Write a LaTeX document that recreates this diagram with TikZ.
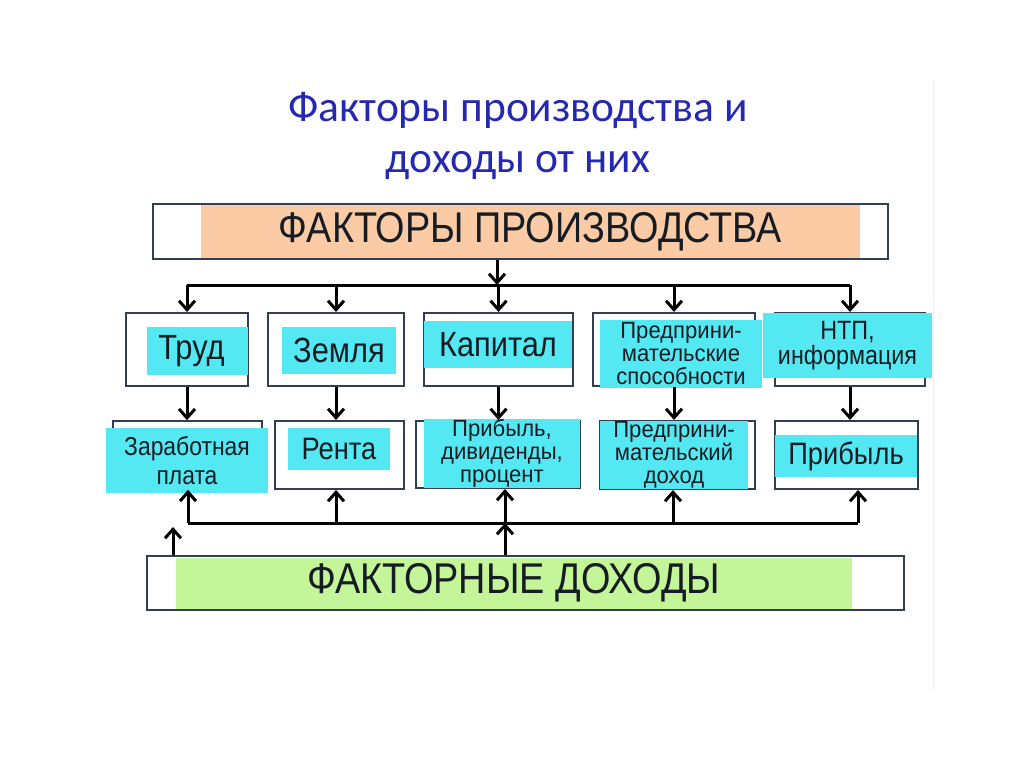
\documentclass[tikz,border=0pt]{standalone}
\usepackage{fontspec}
\usepackage{tikz}
\usetikzlibrary{arrows.meta,positioning}
\newfontfamily\boxfont[FakeStretch=0.88]{Liberation Sans}
\newfontfamily\smlfont[FakeStretch=0.94]{Liberation Sans}
\newfontfamily\headfont{Carlito}
\definecolor{frm}{RGB}{52,62,82}
\definecolor{cyanf}{RGB}{84,232,242}
\definecolor{orangef}{RGB}{250,203,164}
\definecolor{greenf}{RGB}{196,245,152}
\definecolor{headblue}{RGB}{36,40,178}
\definecolor{txt}{RGB}{22,28,36}

\begin{document}
\begin{tikzpicture}[
    x=1pt, y=-1pt,
    every node/.style={text=txt},
    frame/.style={draw=frm, line width=2pt, fill=white, inner sep=0pt},
    lab/.style={fill=cyanf, inner sep=0pt, align=center},
    big/.style={font=\boxfont\fontsize{43}{43}\selectfont},
    mid/.style={font=\boxfont\fontsize{35}{35}\selectfont},
    sml/.style={font=\smlfont\fontsize{23.5}{23}\selectfont},
    ln/.style={line width=3pt, line join=round},
    arr/.style={ln, -{Straight Barb[length=9pt, width=16pt, line width=3pt]}},
  ]
  \useasboundingbox[fill=white] (0,0) rectangle (1024,767);
  \draw[gray!12, line width=1pt] (933,80) -- (933,690);

  % heading
  \node[font=\headfont\fontsize{43.5}{43.5}\selectfont, text=headblue, anchor=base] (head1) at (518,122) {Факторы производства и};
  \node[font=\headfont\fontsize{43.5}{43.5}\selectfont, text=headblue, anchor=base] (head2) at (518,173) {доходы от них};

  % top and bottom bars
  \node[frame, minimum width=735pt, minimum height=55pt] (top) at (520.5,231.5) {};
  \node[fill=orangef, inner sep=0pt, minimum width=659pt, minimum height=52pt, big] (toplab) at (530.5,231.5) {ФАКТОРЫ ПРОИЗВОДСТВА};
  \node[frame, minimum width=757pt, minimum height=54pt] (bot) at (525.5,583) {};
  \node[fill=greenf, inner sep=0pt, minimum width=676pt, minimum height=51pt, big] (botlab) at (514,583) {ФАКТОРНЫЕ ДОХОДЫ};

  % factors
  \node[frame, minimum width=122pt, minimum height=73pt] (F1) at (187,349.5) {};
  \node[frame, minimum width=136pt, minimum height=73pt] (F2) at (336,349.5) {};
  \node[frame, minimum width=149pt, minimum height=73pt] (F3) at (498.5,349.5) {};
  \node[frame, minimum width=162pt, minimum height=73pt] (F4) at (674,349.5) {};
  \node[frame, minimum width=150pt, minimum height=73pt] (F5) at (850,349.5) {};
  \node[lab, mid, minimum width=101pt, minimum height=48pt] (trud) at (197.5,351) {Труд\hspace{12pt}};
  \node[lab, mid, minimum width=114pt, minimum height=47pt] (zem) at (339,350.5) {Земля};
  \node[lab, mid, minimum width=148pt, minimum height=47pt] (kap) at (498,344.5) {Капитал};
  \node[lab, sml, minimum width=162pt, minimum height=68pt] (pred) at (681,354) {Предприни-\\мательские\\способности};
  \node[lab, font=\boxfont\fontsize{26.5}{25}\selectfont, minimum width=169pt, minimum height=65pt] (ntp) at (847.5,345.5) {НТП,\\информация};

  % incomes
  \node[frame, line width=1.6pt, minimum width=149pt, minimum height=68pt] (G1) at (187.5,455) {};
  \node[frame, minimum width=129pt, minimum height=68pt] (G2) at (339.5,455) {};
  \node[frame, minimum width=164pt, minimum height=67pt] (G3) at (498,454.5) {};
  \node[frame, minimum width=155pt, minimum height=68pt] (G4) at (677.5,455) {};
  \node[frame, minimum width=143pt, minimum height=68pt] (G5) at (846.5,455) {};
  \node[lab, font=\boxfont\fontsize{26}{28.5}\selectfont, minimum width=162pt, minimum height=65pt] (zarp) at (187,460.5) {Заработная\\плата};
  \node[lab, font=\boxfont\fontsize{31}{31}\selectfont, minimum width=102pt, minimum height=42pt] (renta) at (339,449) {Рента};
  \node[lab, sml, minimum width=156pt, minimum height=64pt] (prib) at (502,453.5) {Прибыль,\\дивиденды,\\процент};
  \node[lab, sml, minimum width=148pt, minimum height=68pt] (pdoh) at (674,455) {Предприни-\\мательский\\доход};
  \node[lab, font=\boxfont\fontsize{31}{31}\selectfont, minimum width=142pt, minimum height=42pt] (prib2) at (846,456) {Прибыль};

  % upper bus
  \coordinate (tb) at (497,285);
  \draw[arr] (top.south -| tb) -- (tb);
  \draw[ln] (F1.north |- tb) -- (F5.north |- tb);
  \foreach \f in {F1,F2,F3,F4,F5}
    \draw[arr] (\f.north |- tb) -- (\f.north);
  \draw[arr] (F1.south) -- (F1.south |- G1.north);
  \draw[arr] (F2.south) -- (F2.south |- G2.north);
  \draw[arr] (F3.south) -- (F3.south |- G3.north);
  \draw[arr] (F4.south) -- (F4.south |- G4.north);
  \draw[arr] (F5.south) -- (F5.south |- G5.north);

  % lower bus
  \coordinate (b1) at (188,523);
  \coordinate (b2) at (336,523);
  \coordinate (b3) at (505,523);
  \coordinate (b4) at (673,523);
  \coordinate (b5) at (858,523);
  \coordinate (lf) at (173,527);
  \draw[ln] (b1) -- (b5);
  \draw[arr] (b1) -- (b1 |- G1.south);
  \draw[arr] (b2) -- (b2 |- G2.south);
  \draw[arr] (b3) -- (b3 |- G3.south);
  \draw[arr] (b4) -- (b4 |- G4.south);
  \draw[arr] (b5) -- (b5 |- G5.south);
  \draw[arr] (b3 |- bot.north) -- (b3);
  \draw[arr] (lf |- bot.north) -- (lf);
\end{tikzpicture}
\end{document}
